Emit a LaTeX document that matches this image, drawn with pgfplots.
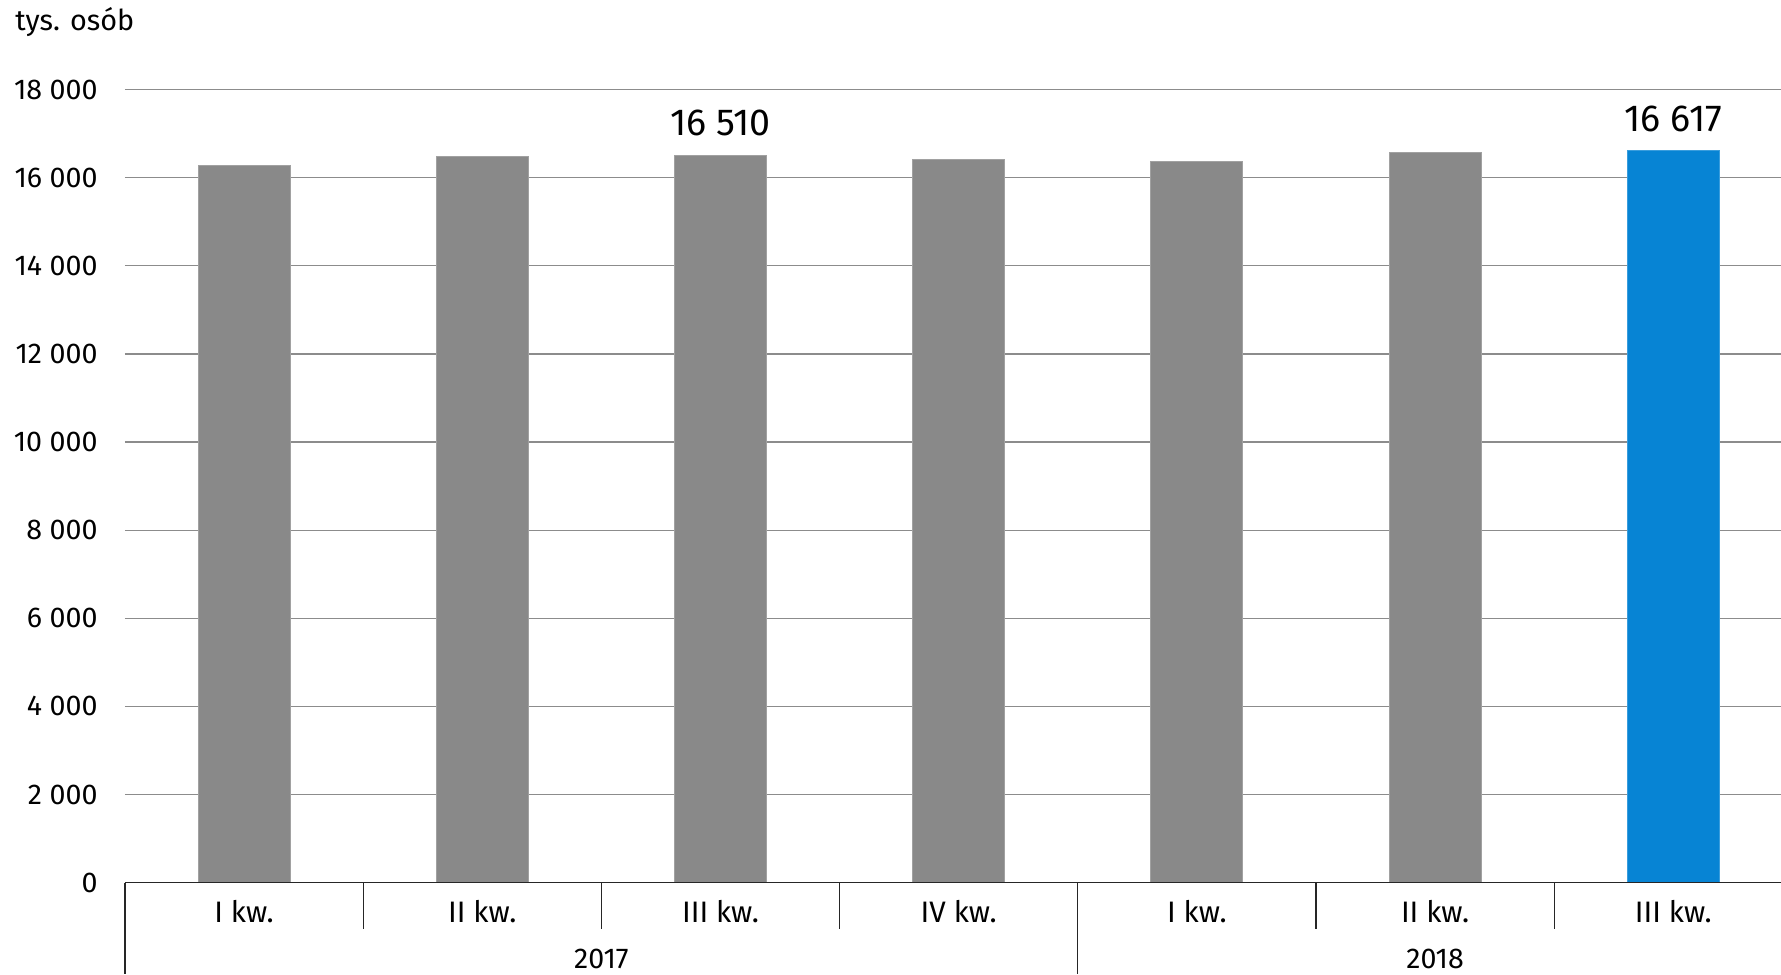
\documentclass[border=0pt]{standalone}
\usepackage{pgfplots}
\pgfplotsset{compat=1.18}
\usepackage{fontspec}
\setmainfont{Fira Sans}
\definecolor{barg}{HTML}{898989}
\definecolor{barb}{HTML}{0784D4}
\definecolor{gridc}{HTML}{8C8C8C}
\begin{document}
\begin{tikzpicture}
\begin{axis}[
  at={(0,0)}, anchor=south west,
  scale only axis,
  width=833.7pt, height=396.45pt,
  xmin=-0.5, xmax=6.5,
  ymin=0, ymax=18000,
  ytick={0,2000,...,18000},
  scaled y ticks=false,
  xtick={0,...,6},
  xticklabels={I kw.,II kw.,III kw.,IV kw.,I kw.,II kw.,III kw.},
  axis line style={draw=none},
  major tick length=0pt,
  ymajorgrids,
  grid style={gridc, line width=0.6pt},
  /pgf/number format/.cd, 1000 sep={\ }, assume math mode=true,
  /pgfplots/.cd,
  tick label style={font=\fontsize{14.3}{16}\selectfont, text=black},
  yticklabel style={anchor=east, inner sep=0pt, xshift=-13.5pt},
  xticklabel style={anchor=base, inner sep=0pt, yshift=-19.8pt, font=\fontsize{14.8}{16}\selectfont},
  ybar, bar width=46pt, bar shift=0pt,
  clip=false,
]
\addplot[fill=barg, draw=barg!80!white, line width=0.5pt] coordinates {(0,16280) (1,16490) (3,16420) (4,16370) (5,16575)};
\addplot[fill=barg, draw=barg!80!white, line width=0.5pt,
  nodes near coords, every node near coord/.style={anchor=base, inner sep=0pt, yshift=9.8pt, font=\fontsize{18.8}{21}\selectfont, text=black}]
  coordinates {(2,16510)};
\addplot[fill=barb, draw=barb!80!white, line width=0.5pt,
  nodes near coords, every node near coord/.style={anchor=base, inner sep=0pt, yshift=9.8pt, font=\fontsize{18.8}{21}\selectfont, text=black}]
  coordinates {(6,16617)};
% x axis line and separators
\draw[black!85, line width=0.7pt] (rel axis cs:0,0) -- (rel axis cs:1,0);
\pgfplotsinvokeforeach{0.5,1.5,2.5,4.5,5.5}{
  \draw[black!85, line width=0.6pt] (axis cs:#1,0) -- ([yshift=-23.2pt]axis cs:#1,0);
}
\pgfplotsinvokeforeach{-0.5,3.5}{
  \draw[black!85, line width=0.6pt] (axis cs:#1,0) -- ([yshift=-45.7pt]axis cs:#1,0);
}
\node[anchor=base, inner sep=0pt, font=\fontsize{14.3}{16}\selectfont] at ([yshift=-42.7pt]axis cs:1.5,0) {2017};
\node[anchor=base, inner sep=0pt, font=\fontsize{14.3}{16}\selectfont] at ([yshift=-42.7pt]axis cs:5,0) {2018};
\node[anchor=base west, inner sep=0pt, font=\fontsize{14.4}{16}\selectfont] at ([xshift=-55pt, yshift=425.8pt]rel axis cs:0,0) {tys. osób};
\end{axis}
\pgfresetboundingbox
\path (-62.5pt,-45.7pt) rectangle (828pt,441.3pt);
\end{tikzpicture}
\end{document}
